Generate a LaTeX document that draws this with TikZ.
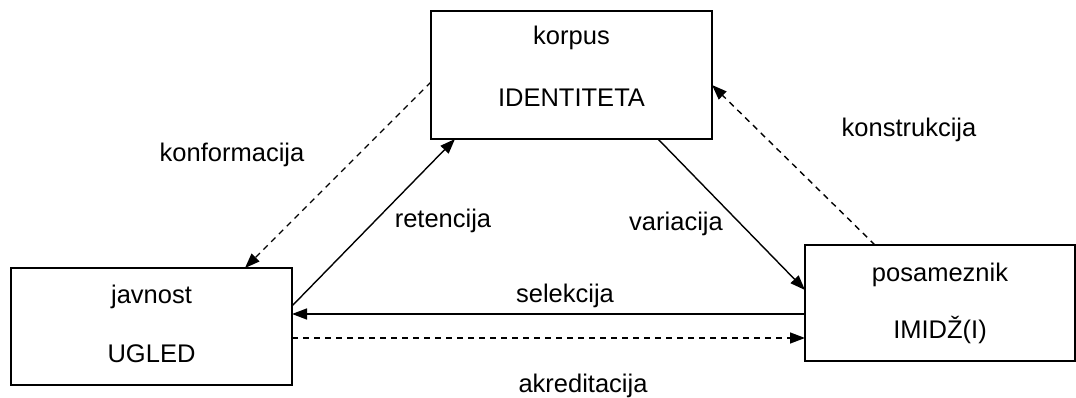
\documentclass[tikz,border=0pt]{standalone}
\usepackage{fontspec}
\setmainfont{Liberation Sans}
\usetikzlibrary{arrows.meta,calc}
\begin{document}
\begin{tikzpicture}[x=1pt,y=-1pt,
  box/.style={draw,line width=2pt,inner sep=0pt,outer sep=0pt},
  txt/.style={inner sep=0pt,outer sep=0pt,anchor=base,font=\fontsize{25.5}{30}\selectfont},
  conn/.style={line width=1.4pt,-{Triangle[length=15pt,width=11pt]}},
  dashconn/.style={conn,dash pattern=on 6pt off 5pt}]
\useasboundingbox (0,0) rectangle (1076,398);
% boxes
\node[box,minimum width=281pt,minimum height=128pt] (top) at (571.5,75) {};
\node[box,minimum width=281pt,minimum height=117pt] (left) at (151.5,326.5) {};
\node[box,minimum width=270pt,minimum height=116pt] (right) at (940,303) {};
% box texts
\node[txt] (topA) at (571.5,45) {korpus};
\node[txt] (topB) at (571.5,107) {IDENTITETA};
\node[txt] (leftA) at (151.5,303) {javnost};
\node[txt] (leftB) at (151.5,362) {UGLED};
\node[txt] (rightA) at (940,281) {posameznik};
\node[txt] (rightB) at (940,338) {IMIDŽ(I)};
% connectors
\draw[dashconn] ($(top.west)+(0,7)$) -- ($(left.north east)+(-47,0)$);
\draw[conn] ($(left.east)+(0,-20.5)$) -- ($(top.south west)+(24,0)$);
\draw[conn] ($(top.south east)+(-54,0)$) -- ($(right.west)+(0,-13)$);
\draw[dashconn] ($(right.north west)+(70,0)$) -- ($(top.east)+(0,10)$);
\draw[conn] ($(right.west)+(0,11)$) -- ($(left.east)+(0,-12.5)$);
\draw[dashconn] ($(left.east)+(0,11.5)$) -- ($(right.west)+(0,35)$);
% labels
\node[txt] (lkonf) at (232,162) {konformacija};
\node[txt] (lret) at (443,228) {retencija};
\node[txt] (lvar) at (676,230) {variacija};
\node[txt] (lkons) at (909,137) {konstrukcija};
\node[txt] (lsel) at (565,302) {selekcija};
\node[txt] (lakr) at (583,392) {akreditacija};
\end{tikzpicture}
\end{document}
